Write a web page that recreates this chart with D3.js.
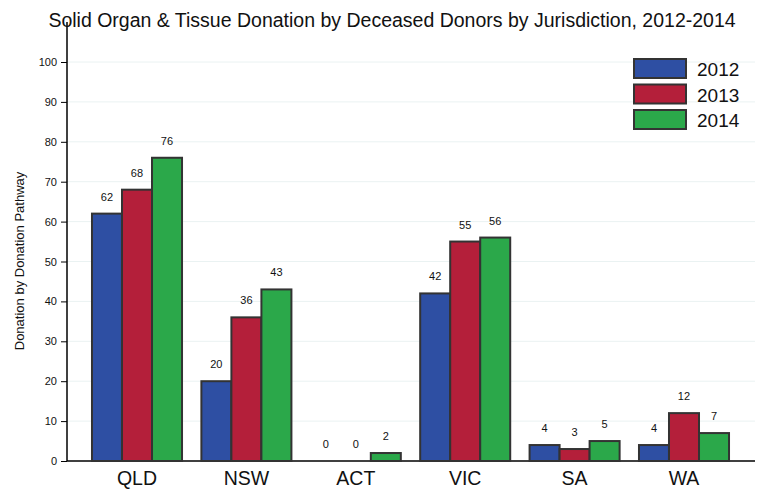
<!DOCTYPE html>
<html><head><meta charset="utf-8">
<script src="https://cdn.jsdelivr.net/npm/d3@7"></script>
<style>body{margin:0;background:#fff;}svg{display:block;font-family:"Liberation Sans",Arial,sans-serif;}</style>
</head><body><svg id="c" width="781" height="489"></svg>
<script>
const categories = ["QLD","NSW","ACT","VIC","SA","WA"];
const years = ["2012","2013","2014"];
const v2012 = [62,20,0,42,4,4];
const v2013 = [68,36,0,55,3,12];
const v2014 = [76,43,2,56,5,7];
const yTicks = [0,10,20,30,40,50,60,70,80,90,100];
const colors = ["#2e4fa3","#b41f3a","#2ba84a"];
const series = [v2012, v2013, v2014];

const svg = d3.select("#c");
const y = d3.scaleLinear().domain([0,100]).range([461,62]);
const x = d3.scaleBand().domain(categories).range([82.3,738.7]).paddingInner(0.177).paddingOuter(0.0885);
const xs = d3.scaleBand().domain(years).range([0,x.bandwidth()]);

// grid
svg.append("g").selectAll("line").data(yTicks.filter(d=>d>0)).join("line")
  .attr("x1",67).attr("x2",755).attr("y1",d=>y(d)).attr("y2",d=>y(d))
  .attr("stroke","#eaf2f2").attr("stroke-width",1);

// y axis
const ya = svg.append("g").attr("transform","translate(67,0)").attr("color","#111")
  .call(d3.axisLeft(y).tickValues(yTicks).tickSize(6).tickPadding(4));
ya.select(".domain").attr("d","M0,"+y(0)+"V22").attr("stroke","#000").attr("stroke-width",1.5);
ya.selectAll(".tick line").attr("stroke","#000");
ya.selectAll(".tick text").attr("font-size",11).attr("fill","#111").attr("font-family","Liberation Sans, Arial, sans-serif");

// baseline
svg.append("line").attr("x1",67).attr("x2",755).attr("y1",y(0)).attr("y2",y(0)).attr("stroke","#000").attr("stroke-width",1.5);

// bars
const groups = svg.append("g").selectAll("g").data(categories).join("g")
  .attr("transform",d=>`translate(${x(d)},0)`);
years.forEach((yr,si)=>{
  groups.append("rect")
    .attr("x",xs(yr)).attr("width",xs.bandwidth())
    .attr("y",(d,i)=>y(series[si][i])).attr("height",(d,i)=>y(0)-y(series[si][i]))
    .attr("fill",colors[si]).attr("stroke",(d,i)=>series[si][i]>0?"#333":"none").attr("stroke-width",2);
  groups.append("text")
    .attr("x",xs(yr)+xs.bandwidth()/2)
    .attr("y",(d,i)=>y(series[si][i])-13)
    .attr("text-anchor","middle").attr("font-size",11).attr("fill","#111")
    .text((d,i)=>series[si][i]);
});

// x labels
svg.append("g").selectAll("text").data(categories).join("text")
  .attr("x",d=>x(d)+x.bandwidth()/2).attr("y",485)
  .attr("text-anchor","middle").attr("font-size",19.5).attr("fill","#111").text(d=>d);

// title
svg.append("text").attr("x",392).attr("y",27).attr("text-anchor","middle")
  .attr("font-size",19.5).attr("fill","#111")
  .text("Solid Organ & Tissue Donation by Deceased Donors by Jurisdiction, 2012-2014");

// y title
svg.append("text").attr("transform","translate(24,261) rotate(-90)").attr("text-anchor","middle")
  .attr("font-size",13).attr("fill","#111").text("Donation by Donation Pathway");

// legend
const lg = svg.append("g").selectAll("g").data(years).join("g")
  .attr("transform",(d,i)=>`translate(634,${59+i*25.5})`);
lg.append("rect").attr("width",52).attr("height",19).attr("fill",(d,i)=>colors[i]).attr("stroke","#333").attr("stroke-width",2);
lg.append("text").attr("x",63).attr("y",17).attr("font-size",19).attr("fill","#111").text(d=>d);
</script></body></html>
